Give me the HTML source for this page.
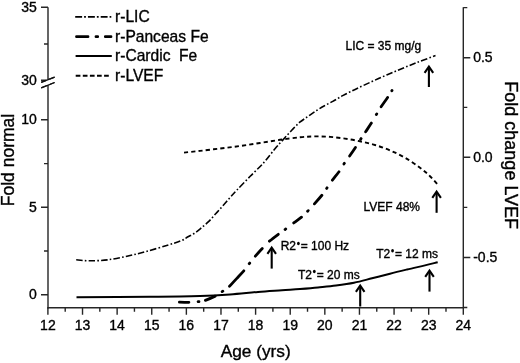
<!DOCTYPE html>
<html><head><meta charset="utf-8"><style>
html,body{margin:0;padding:0;background:#fff;}
svg{display:block;font-family:"Liberation Sans",sans-serif;filter:grayscale(1);}
text{stroke:#000;stroke-width:0.35px;}
</style></head><body>
<svg width="520" height="363" viewBox="0 0 520 363">
<rect width="520" height="363" fill="#fff"/>
<g stroke="#262626" stroke-width="1.4" fill="none">
<path d="M48 7.3V79M48 85.5V308.4"/>
<path d="M47.3 307.7H464.0"/>
<path d="M463.3 7.3V307.7"/>
<path d="M47.90 307.7V314.7M65.21 307.7V311.7M82.52 307.7V314.7M99.83 307.7V311.7M117.13 307.7V314.7M134.44 307.7V311.7M151.75 307.7V314.7M169.06 307.7V311.7M186.37 307.7V314.7M203.68 307.7V311.7M220.98 307.7V314.7M238.29 307.7V311.7M255.60 307.7V314.7M272.91 307.7V311.7M290.22 307.7V314.7M307.52 307.7V311.7M324.83 307.7V314.7M342.14 307.7V311.7M359.45 307.7V314.7M376.76 307.7V311.7M394.07 307.7V314.7M411.38 307.7V311.7M428.68 307.7V314.7M445.99 307.7V311.7M463.30 307.7V314.7"/>
<path d="M41.0 294.7H48.0M41.0 207.3H48.0M41.0 119.8H48.0M44.0 251.0H48.0M44.0 163.6H48.0M41.0 7.3H48.0M44.0 44.0H48.0M41.0 80.3H48.0"/>
<path d="M463.3 57.7H470.3M463.3 157.2H470.3M463.3 257.5H470.3M463.3 7.6H467.3M463.3 107.4H467.3M463.3 207.4H467.3M463.3 307.5H467.3"/>
<path d="M41.2 82.4L54.6 77.2M41.2 87.8L54.6 82.5" stroke="#111" stroke-width="1.3"/>
</g>
<rect x="46" y="79.3" width="4" height="5.8" fill="#fff"/>
<path d="M41.2 82.4L54.6 77.2M41.2 87.8L54.6 82.5" stroke="#111" stroke-width="1.3"/>
<g fill="#000" font-size="14">
<text x="47.90" y="329.8" text-anchor="middle">12</text><text x="82.52" y="329.8" text-anchor="middle">13</text><text x="117.13" y="329.8" text-anchor="middle">14</text><text x="151.75" y="329.8" text-anchor="middle">15</text><text x="186.37" y="329.8" text-anchor="middle">16</text><text x="220.98" y="329.8" text-anchor="middle">17</text><text x="255.60" y="329.8" text-anchor="middle">18</text><text x="290.22" y="329.8" text-anchor="middle">19</text><text x="324.83" y="329.8" text-anchor="middle">20</text><text x="359.45" y="329.8" text-anchor="middle">21</text><text x="394.07" y="329.8" text-anchor="middle">22</text><text x="428.68" y="329.8" text-anchor="middle">23</text><text x="463.30" y="329.8" text-anchor="middle">24</text>
<text x="36.8" y="299.1" text-anchor="end">0</text><text x="36.8" y="211.7" text-anchor="end">5</text><text x="36.8" y="124.2" text-anchor="end">10</text><text x="36.8" y="84.7" text-anchor="end">30</text><text x="36.8" y="11.7" text-anchor="end">35</text>
<text x="473.2" y="62.1">0.5</text><text x="473.2" y="161.6">0.0</text><text x="473.2" y="261.9">-0.5</text>
</g>
<g fill="none" stroke="#000" stroke-linecap="butt">
<path d="M76.5 297.3 C88.8 297.2 129.4 297.0 150.0 296.8 C170.6 296.6 186.7 296.4 200.0 296.0 C213.3 295.6 220.3 295.1 230.0 294.4 C239.7 293.7 249.3 292.6 258.0 291.9 C266.7 291.2 275.0 290.7 282.0 290.2 C289.0 289.7 294.0 289.5 300.0 289.0 C306.0 288.5 312.0 288.0 318.0 287.4 C324.0 286.8 330.0 286.3 336.0 285.5 C342.0 284.7 348.0 283.9 354.0 282.7 C360.0 281.5 366.0 279.8 372.0 278.3 C378.0 276.8 384.2 275.2 390.0 273.7 C395.8 272.2 401.2 270.9 407.0 269.5 C412.8 268.1 419.9 266.6 425.0 265.4 C430.1 264.2 435.6 262.7 437.7 262.2" stroke-width="2"/>
<path d="M184.0 152.6 C186.7 152.3 194.0 151.6 200.0 150.9 C206.0 150.2 213.3 149.3 220.0 148.5 C226.7 147.7 233.3 146.9 240.0 146.0 C246.7 145.1 253.3 144.0 260.0 143.0 C266.7 142.0 273.3 140.8 280.0 139.8 C286.7 138.9 294.2 137.9 300.0 137.3 C305.8 136.7 310.0 136.5 315.0 136.4 C320.0 136.3 325.0 136.5 330.0 136.9 C335.0 137.3 340.0 137.9 345.0 138.6 C350.0 139.3 355.0 140.2 360.0 141.3 C365.0 142.4 370.0 143.5 375.0 145.0 C380.0 146.5 385.0 148.3 390.0 150.4 C395.0 152.5 400.0 154.8 405.0 157.7 C410.0 160.6 415.8 164.7 420.0 167.8 C424.2 170.9 427.0 173.3 430.0 176.2 C433.0 179.1 436.7 183.5 438.0 185.0" stroke-width="1.9" stroke-dasharray="4.2 3.1"/>
<path d="M76.2 259.8 C78.5 260.0 84.7 260.8 90.0 260.8 C95.3 260.8 101.7 260.6 108.0 259.8 C114.3 259.0 121.5 257.4 128.0 256.0 C134.5 254.6 140.4 253.1 147.0 251.3 C153.6 249.5 161.8 246.9 167.5 245.2 C173.2 243.4 177.6 242.2 181.0 240.8 C184.4 239.4 185.7 238.1 188.0 236.8 C190.3 235.5 192.7 234.5 195.0 232.9 C197.3 231.3 199.6 229.3 201.9 227.4 C204.2 225.5 206.5 223.7 208.8 221.4 C211.1 219.1 213.4 216.3 215.7 213.8 C218.0 211.3 220.2 208.8 222.5 206.2 C224.8 203.6 227.1 200.9 229.4 198.3 C231.7 195.7 232.9 194.3 236.4 190.6 C239.9 186.9 245.6 181.0 250.2 176.3 C254.8 171.6 259.9 167.0 264.0 162.4 C268.1 157.8 271.8 152.5 275.0 148.7 C278.2 144.9 280.4 142.6 283.2 139.6 C285.9 136.6 288.7 133.4 291.5 130.5 C294.3 127.6 297.1 124.5 299.8 122.2 C302.6 119.9 305.2 118.3 308.0 116.4 C310.8 114.5 313.6 112.5 316.3 110.7 C319.1 108.9 321.8 107.2 324.5 105.7 C327.2 104.2 330.1 102.9 332.8 101.4 C335.6 99.9 338.2 98.1 341.0 96.6 C343.8 95.1 346.3 93.7 349.3 92.2 C352.3 90.7 354.2 89.7 359.0 87.5 C363.8 85.3 371.5 81.7 378.0 78.8 C384.5 75.9 391.5 72.9 398.0 70.2 C404.5 67.5 410.8 64.9 417.0 62.5 C423.2 60.1 432.4 56.8 435.5 55.6" stroke-width="1.6" stroke-dasharray="6.5 2.2 1.6 2.2"/>
<path d="M177.5 302.0 C179.6 302.1 186.7 302.4 190.2 302.3 C193.7 302.2 196.2 301.9 198.5 301.6 C200.8 301.4 201.2 301.8 204.2 300.8 C207.1 299.8 213.1 297.2 216.2 295.6 C219.2 294.0 220.4 292.8 222.5 291.4 C224.6 290.0 226.2 289.3 228.6 287.2 C230.9 285.1 233.9 281.5 236.6 278.6 C239.3 275.7 242.5 272.4 244.6 269.9 C246.7 267.4 247.7 265.7 249.3 263.6 C250.9 261.5 252.1 259.8 254.4 257.2 C256.7 254.6 260.6 250.3 263.0 247.8 C265.4 245.3 265.8 244.4 268.5 242.0 C271.2 239.6 276.4 235.7 279.2 233.6 C282.0 231.5 283.2 230.8 285.5 229.2 C287.8 227.5 289.9 225.8 292.7 223.7 C295.5 221.6 299.9 218.5 302.4 216.4 C304.9 214.3 305.9 212.9 307.8 211.0 C309.7 209.1 311.1 207.6 313.6 204.8 C316.1 202.0 320.4 197.1 322.6 194.4 C324.8 191.7 325.1 190.7 326.6 188.5 C328.1 186.3 329.3 184.2 331.5 181.3 C333.7 178.4 337.6 173.7 339.7 170.8 C341.8 167.9 342.4 166.3 343.9 164.0 C345.4 161.7 346.9 159.9 348.9 157.0 C350.9 154.1 354.2 149.3 356.1 146.4 C358.0 143.5 359.0 141.8 360.5 139.5 C362.0 137.2 363.0 135.8 364.9 132.9 C366.8 130.0 370.1 125.1 372.0 122.1 C373.9 119.1 374.7 117.4 376.1 115.0 C377.5 112.6 378.4 110.9 380.4 107.8 C382.4 104.7 386.3 99.4 388.2 96.5 C390.1 93.6 391.4 91.5 392.0 90.5" stroke-width="2.8" stroke-linecap="round" stroke-dasharray="9.3 9.3 0.8 6.8 10.3 8.6 0.8 8.4 20.8 9.1 0.8 9.1 9.9 10.7 10.8 8.6 0.8 10.1 9.4 8.7 0.8 9.4 11 8.5 0.8 9.5 10.3 9.4 0.8 9.2 10 9.8 0.8 8.4 10.1 10 0.8 8.6 10.9 8 0.8 500" stroke-dashoffset="-2.0"/>
</g>
<g stroke="#000" stroke-width="2.1" fill="none" stroke-linejoin="miter">
<path d="M428.9 67.5V87.0" /><path d="M424.6 72.8L428.9 66.6L433.2 72.8" fill="none"/><path d="M436.6 192.6V212.8" /><path d="M432.3 197.9L436.6 191.7L440.9 197.9" fill="none"/><path d="M271.7 248.5V268.6" /><path d="M267.4 253.8L271.7 247.6L276.0 253.8" fill="none"/><path d="M360.2 286.5V306.5" /><path d="M355.9 291.8L360.2 285.6L364.5 291.8" fill="none"/><path d="M429.5 271.6V291.6" /><path d="M425.2 276.9L429.5 270.7L433.8 276.9" fill="none"/>
</g>
<g fill="none" stroke="#000">
<path d="M75.2 16.8H111.3" stroke-width="1.7" stroke-dasharray="6.9 2 1.8 2.05"/>
<path d="M76.5 36.7H111" stroke-width="2.8" stroke-linecap="round" stroke-dasharray="11.5 8 1.7 7.6"/>
<path d="M75.6 56H111.8" stroke-width="2"/>
<path d="M75.7 75.8H108.9" stroke-width="2" stroke-dasharray="4.7 2.4"/>
</g>
<g fill="#000" font-size="16.2" transform="translate(115 0) scale(0.963 1)">
<text x="0" y="22.3">r-LIC</text>
<text x="0" y="41.7">r-Panceas Fe</text>
<text x="0" y="61.4">r-Cardic&#160; Fe</text>
<text x="0" y="80.8">r-LVEF</text>
</g>
<g fill="#000" font-size="12" style="white-space:pre">
<text x="345.5" y="50.0">LIC = 35 mg/g</text>
<text x="363.5" y="211">LVEF 48%</text>
<text x="280.7" y="250.3">R2<tspan style="fill:none;stroke:none">*</tspan>= 100 Hz</text>
<text x="298" y="278.5">T2<tspan style="fill:none;stroke:none">*</tspan>= 20 ms</text>
<text x="376.2" y="257.7">T2<tspan style="fill:none;stroke:none">*</tspan>= 12 ms</text>
</g>
<g fill="#000"><ellipse cx="298.4" cy="243.4" rx="1.4" ry="1.75"/><ellipse cx="314.3" cy="271.5" rx="1.4" ry="1.75"/><ellipse cx="392.55" cy="250.7" rx="1.4" ry="1.75"/></g>
<g fill="#000" font-size="17">
<text x="255.7" y="357" text-anchor="middle" font-size="17.3">Age (yrs)</text>
<text transform="translate(14 160.0) rotate(-90)" text-anchor="middle" font-size="17.5">Fold normal</text>
<text transform="translate(505.2 155.2) rotate(90)" text-anchor="middle" font-size="18">Fold change LVEF</text>
</g>
</svg>
</body></html>
